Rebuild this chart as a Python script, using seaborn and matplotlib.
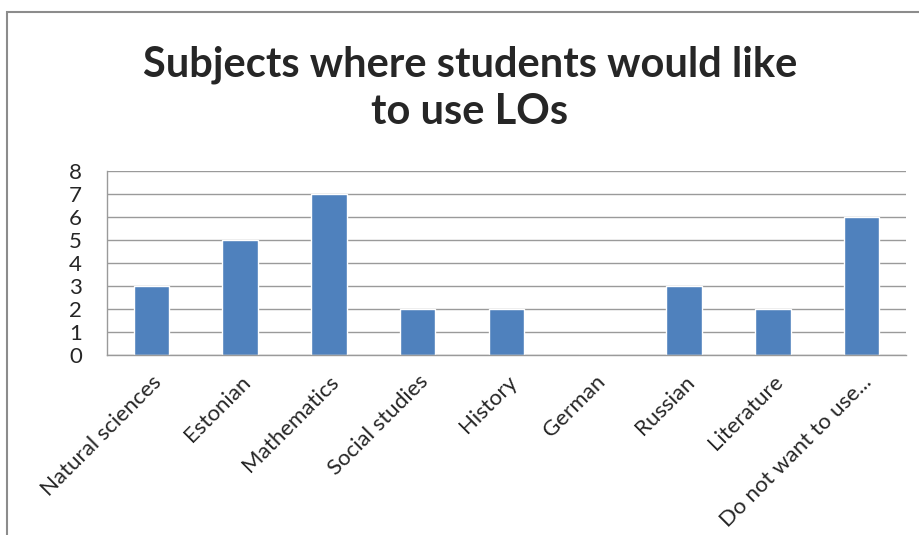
import matplotlib
matplotlib.use("Agg")
import matplotlib.pyplot as plt
import pandas as pd
import seaborn as sns
from matplotlib.patches import Rectangle

SUBJECTS = ["Natural sciences", "Estonian", "Mathematics", "Social studies",
            "History", "German", "Russian", "Literature", "Do not want to use..."]
COUNTS = [3, 5, 7, 2, 2, 0, 3, 2, 6]
Y_TICKS = [0, 1, 2, 3, 4, 5, 6, 7, 8]
TITLE = "Subjects where students would like\nto use LOs"

BAR_COLOR = "#4F81BD"
GRID_COLOR = "#9a9a9a"

sns.set_style("white")
plt.rcParams["font.family"] = ["Lato", "DejaVu Sans"]

df = pd.DataFrame({"subject": SUBJECTS, "count": COUNTS})

fig = plt.figure(figsize=(9.2, 5.35), dpi=100)
ax = fig.add_axes([107 / 920, 1 - 355 / 535, (906 - 107) / 920, (355 - 171) / 535])

sns.barplot(data=df, x="subject", y="count", color=BAR_COLOR, width=0.4,
            saturation=1, ax=ax)

ax.set_ylim(0, 8)
ax.set_yticks(Y_TICKS)
ax.set_yticklabels([str(t) for t in Y_TICKS], fontsize=16)
ax.yaxis.grid(True, color=GRID_COLOR, lw=1)
ax.set_axisbelow(True)
ax.tick_params(axis="both", length=0)
ax.tick_params(axis="y", pad=18)
ax.tick_params(axis="x", pad=12)
ax.set_xlabel("")
ax.set_ylabel("")
plt.setp(ax.get_xticklabels(), rotation=45, ha="right", rotation_mode="anchor",
         fontsize=16)
for side in ("top", "right"):
    ax.spines[side].set_visible(False)
for side in ("left", "bottom"):
    ax.spines[side].set_color(GRID_COLOR)
    ax.spines[side].set_linewidth(1)

fig.text(470 / 920, 1 - 88 / 535, TITLE, ha="center", va="center",
         fontsize=30, fontweight="bold", linespacing=1.3)

# chart frame (right and bottom edges fall outside the picture)
fig.patches.append(Rectangle((7 / 920, -0.1), 1.1, 1 - 12 / 535 + 0.1,
                             transform=fig.transFigure, fill=False,
                             edgecolor="#8c8c8c", lw=1.5, clip_on=False))

fig.savefig("out.png", dpi=100)
